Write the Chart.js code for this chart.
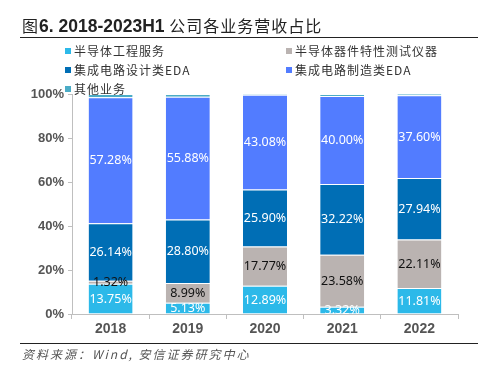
<!DOCTYPE html>
<html>
<head>
<meta charset="utf-8">
<script src="https://cdn.jsdelivr.net/npm/chart.js@4/dist/chart.umd.min.js"></script>
<style>
  body { margin: 0; background: #fff; font-family: "Noto Sans CJK SC", "Noto Sans", sans-serif; }
  #wrap { position: relative; width: 494px; height: 377px; overflow: hidden; }
  #chart { position: absolute; left: 0; top: 0; }
  .title { position: absolute; left: 22px; top: 13px; font-size: 16px; color: #222; white-space: nowrap; letter-spacing: 1px; }
  .title b { font-family: "Liberation Sans", Arial, sans-serif; font-weight: bold; font-size: 17.5px; letter-spacing: 0; }
  .rule { position: absolute; left: 20px; width: 458px; height: 1px; background: #222; }
  .legend { position: absolute; font-size: 12px; color: #333; white-space: nowrap; letter-spacing: 1px; }
  .legend i { display: inline-block; width: 6px; height: 6px; margin-right: 3px; vertical-align: 2px; }
  .source { position: absolute; left: 22px; top: 345px; font-size: 12px; color: #555; font-style: italic; letter-spacing: 2px; }
</style>
</head>
<body>
<div id="wrap">
  <canvas id="chart" width="494" height="377"></canvas>
  <div class="title">图<b>6. 2018-2023H1</b> 公司各业务营收占比</div>
  <div class="rule" style="top:37px"></div>
  <div id="legend"></div>
  <div class="rule" style="top:343px"></div>
  <div class="source">资料来源：Wind, 安信证券研究中心</div>
</div>
<script>
// 年份
const anos = ["2018", "2019", "2020", "2021", "2022"];
const series = ["半导体工程服务", "半导体器件特性测试仪器", "集成电路设计类EDA", "集成电路制造类EDA", "其他业务"];
const gongcheng = [13.75, 5.13, 12.89, 3.32, 11.81];
const qijian = [1.32, 8.99, 17.77, 23.58, 22.11];
const sheji = [26.14, 28.80, 25.90, 32.22, 27.94];
const zhizao = [57.28, 55.88, 43.08, 40.00, 37.60];
const qita = [1.51, 1.20, 0.36, 0.88, 0.54];
const yTicks = [0, 20, 40, 60, 80, 100];

const colores = ["#2cb9e9", "#bab3b1", "#006eb5", "#527cff", "#4bacc6"];
const colorTexto = ["#fff", "#111", "#fff", "#fff", null];

// leyenda en dos columnas
const posLeyenda = [[65, 42], [286, 42], [65, 61], [286, 61], [65, 80]];
const legendDiv = document.getElementById("legend");
series.forEach((s, i) => {
  const d = document.createElement("div");
  d.className = "legend";
  d.style.left = posLeyenda[i][0] + "px";
  d.style.top = posLeyenda[i][1] + "px";
  d.innerHTML = `<i style="background:${colores[i]}"></i>${s}`;
  legendDiv.appendChild(d);
});

const valores = [gongcheng, qijian, sheji, zhizao, qita];

// etiquetas dentro de cada segmento
const etiquetas = {
  id: "etiquetas",
  afterDatasetsDraw(chart) {
    const ctx = chart.ctx;
    ctx.save();
    ctx.font = "12.5px 'Noto Sans', sans-serif";
    ctx.textAlign = "center";
    ctx.textBaseline = "middle";
    chart.data.datasets.forEach((ds, i) => {
      if (!colorTexto[i]) return;
      const meta = chart.getDatasetMeta(i);
      meta.data.forEach((bar, j) => {
        const v = ds.data[j];
        ctx.fillStyle = colorTexto[i];
        ctx.fillText(v.toFixed(2) + "%", bar.x, (bar.y + bar.base) / 2 + 0.5);
      });
    });
    ctx.restore();
  }
};

new Chart(document.getElementById("chart"), {
  type: "bar",
  data: {
    labels: anos,
    datasets: series.map((s, i) => ({
      label: s,
      data: valores[i],
      backgroundColor: colores[i],
      borderColor: "rgba(255,255,255,0.35)",
      borderWidth: { top: 1 },
      borderSkipped: false,
      barPercentage: 0.57,
      categoryPercentage: 1
    }))
  },
  options: {
    responsive: false,
    animation: false,
    layout: { padding: { top: 94, right: 36, left: 0, bottom: 0 } },
    plugins: { legend: { display: false }, tooltip: { enabled: false } },
    scales: {
      x: {
        stacked: true,
        afterFit: (s) => { s.height = 63; },
        grid: { drawOnChartArea: false, tickLength: 5, color: "#bfbfbf", offset: true },
        border: { color: "#bfbfbf" },
        ticks: { color: "#555", padding: 2, font: { family: "Liberation Sans", size: 14, weight: "bold" } }
      },
      y: {
        stacked: true,
        min: 0,
        max: 100,
        afterFit: (s) => { s.width = 72; },
        afterBuildTicks: (s) => { s.ticks = yTicks.map(v => ({ value: v })); },
        grid: { drawOnChartArea: false, tickLength: 4, color: "#bfbfbf" },
        border: { color: "#bfbfbf" },
        ticks: {
          color: "#555",
          padding: 4,
          font: { family: "Liberation Sans", size: 13, weight: "bold" },
          callback: (v) => v + "%"
        }
      }
    }
  },
  plugins: [etiquetas]
});
</script>
</body>
</html>
